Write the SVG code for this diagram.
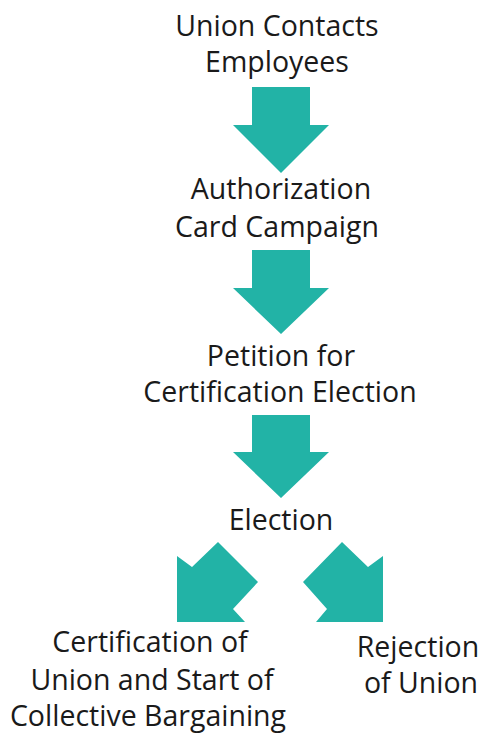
<svg xmlns="http://www.w3.org/2000/svg" width="483" height="734" viewBox="0 0 483 734">
<style>
.t{font-family:"Open Sans","Liberation Sans",sans-serif;font-size:28.5px;fill:#1a1a1a;text-anchor:middle}
.a{fill:#22b3a6}
</style>
<rect width="483" height="734" fill="#fff"/>
<g id="connectors">
<polygon class="a" points="252,87 310,87 310,125 329,125 281,173 233,125 252,125"/>
<polygon class="a" points="252,250 310,250 310,288 329,288 281,334 233,288 252,288"/>
<polygon class="a" points="252,415 310,415 310,452 329,452 281,498 233,452 252,452"/>
<polygon class="a" points="177,556 192,567 218,542 258,582 233,609 245,622 177,622"/>
<polygon class="a" points="383,556 368,567 342,542 303,582 327,609 316,622 383,622"/>
</g>
<g id="n1"><text class="t" x="277" y="36">Union Contacts</text><text class="t" x="277" y="72">Employees</text></g>
<g id="n2"><text class="t" x="281" y="199">Authorization</text><text class="t" x="277" y="237">Card Campaign</text></g>
<g id="n3"><text class="t" x="281" y="366">Petition for</text><text class="t" x="280" y="402">Certification Election</text></g>
<g id="n4"><text class="t" x="281" y="530">Election</text></g>
<g id="n5"><text class="t" x="150" y="652">Certification of</text><text class="t" x="152" y="690">Union and Start of</text><text class="t" x="148" y="726">Collective Bargaining</text></g>
<g id="n6"><text class="t" x="418" y="657">Rejection</text><text class="t" x="421" y="693">of Union</text></g>
</svg>
